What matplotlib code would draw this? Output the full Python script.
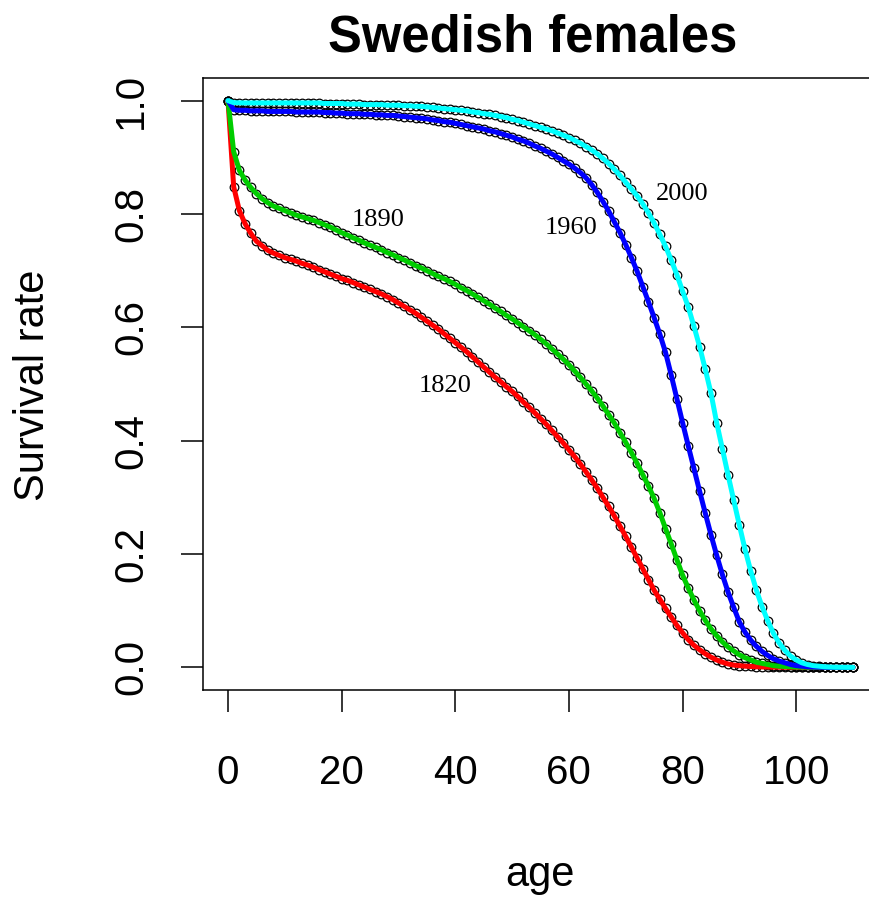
import matplotlib
matplotlib.use("Agg")
import matplotlib.pyplot as plt

# Survival by age (0..110) for Swedish female cohorts
ages = list(range(0, 111))

surv_1820 = [
    1.000, 0.848, 0.806, 0.783, 0.766, 0.752, 0.744, 0.736, 0.731, 0.727,
    0.723, 0.720, 0.717, 0.713, 0.710, 0.706, 0.702, 0.698, 0.694, 0.690,
    0.686, 0.683, 0.679, 0.675, 0.671, 0.667, 0.663, 0.659, 0.654, 0.649,
    0.643, 0.637, 0.631, 0.625, 0.618, 0.611, 0.604, 0.597, 0.589, 0.581,
    0.573, 0.565, 0.557, 0.548, 0.539, 0.530, 0.521, 0.512, 0.504, 0.495,
    0.487, 0.478, 0.468, 0.459, 0.449, 0.439, 0.429, 0.418, 0.407, 0.396,
    0.384, 0.372, 0.359, 0.345, 0.331, 0.316, 0.300, 0.284, 0.267, 0.249,
    0.231, 0.212, 0.193, 0.174, 0.155, 0.136, 0.120, 0.104, 0.089, 0.074,
    0.061, 0.049, 0.039, 0.031, 0.024, 0.018, 0.013, 0.009, 0.006, 0.004,
    0.003, 0.002, 0.0015, 0.001, 0.0007, 0.0005, 0.0003, 0.0002, 0.0001, 0.0001,
    0.0, 0.0, 0.0, 0.0, 0.0, 0.0, 0.0, 0.0, 0.0, 0.0, 0.0,
]

surv_1890 = [
    1.000, 0.910, 0.877, 0.860, 0.847, 0.836, 0.827, 0.820, 0.814, 0.810,
    0.806, 0.802, 0.798, 0.795, 0.792, 0.789, 0.785, 0.781, 0.777, 0.772,
    0.767, 0.763, 0.758, 0.754, 0.749, 0.745, 0.741, 0.737, 0.732, 0.728,
    0.723, 0.719, 0.714, 0.709, 0.705, 0.700, 0.695, 0.690, 0.686, 0.681,
    0.676, 0.670, 0.665, 0.659, 0.653, 0.647, 0.641, 0.634, 0.628, 0.621,
    0.615, 0.608, 0.601, 0.594, 0.587, 0.579, 0.571, 0.562, 0.553, 0.544,
    0.534, 0.523, 0.512, 0.500, 0.488, 0.475, 0.461, 0.446, 0.431, 0.414,
    0.397, 0.379, 0.360, 0.340, 0.320, 0.298, 0.273, 0.245, 0.218, 0.190,
    0.163, 0.140, 0.119, 0.100, 0.083, 0.068, 0.056, 0.045, 0.036, 0.029,
    0.022, 0.017, 0.013, 0.009, 0.007, 0.005, 0.003, 0.002, 0.0015, 0.001,
    0.0006, 0.0004, 0.0002, 0.0001, 0.0, 0.0, 0.0, 0.0, 0.0, 0.0, 0.0,
]

surv_1960 = [
    1.000, 0.984, 0.983, 0.983, 0.982, 0.982, 0.982, 0.981, 0.981, 0.981,
    0.981, 0.981, 0.980, 0.980, 0.980, 0.980, 0.980, 0.979, 0.979, 0.978,
    0.978, 0.977, 0.977, 0.977, 0.976, 0.976, 0.975, 0.975, 0.974, 0.974,
    0.973, 0.972, 0.971, 0.970, 0.969, 0.968, 0.966, 0.965, 0.963, 0.962,
    0.960, 0.958, 0.956, 0.954, 0.952, 0.950, 0.947, 0.945, 0.942, 0.939,
    0.936, 0.932, 0.929, 0.925, 0.920, 0.916, 0.911, 0.906, 0.900, 0.894,
    0.888, 0.881, 0.873, 0.864, 0.852, 0.838, 0.822, 0.805, 0.786, 0.767,
    0.746, 0.723, 0.699, 0.672, 0.645, 0.617, 0.588, 0.556, 0.516, 0.474,
    0.432, 0.391, 0.351, 0.311, 0.272, 0.234, 0.198, 0.164, 0.133, 0.106,
    0.080, 0.062, 0.048, 0.037, 0.028, 0.021, 0.015, 0.011, 0.008, 0.005,
    0.003, 0.002, 0.001, 0.0006, 0.0003, 0.0001, 0.0, 0.0, 0.0, 0.0, 0.0,
]

surv_2000 = [
    1.000, 0.9965, 0.9962, 0.996, 0.996, 0.996, 0.996, 0.996, 0.996, 0.996,
    0.996, 0.996, 0.996, 0.996, 0.996, 0.996, 0.996, 0.995, 0.995, 0.995,
    0.995, 0.994, 0.994, 0.994, 0.993, 0.993, 0.993, 0.993, 0.992, 0.992,
    0.992, 0.991, 0.991, 0.990, 0.990, 0.989, 0.988, 0.987, 0.986, 0.985,
    0.984, 0.983, 0.982, 0.980, 0.979, 0.977, 0.976, 0.974, 0.972, 0.970,
    0.967, 0.965, 0.962, 0.959, 0.956, 0.953, 0.950, 0.947, 0.943, 0.939,
    0.935, 0.930, 0.925, 0.919, 0.913, 0.906, 0.898, 0.889, 0.879, 0.868,
    0.856, 0.844, 0.832, 0.818, 0.802, 0.784, 0.764, 0.743, 0.719, 0.693,
    0.664, 0.636, 0.602, 0.566, 0.526, 0.484, 0.432, 0.386, 0.340, 0.295,
    0.251, 0.208, 0.170, 0.136, 0.107, 0.082, 0.060, 0.043, 0.030, 0.020,
    0.013, 0.008, 0.005, 0.003, 0.002, 0.001, 0.0005, 0.0002, 0.0001, 0.0, 0.0,
]

years = ["1820", "1890", "1960", "2000"]
series = [surv_1820, surv_1890, surv_1960, surv_2000]
colors = ["#FF0000", "#00CD00", "#0000FF", "#00FFFF"]
label_pos = [(38.2, 0.496), (26.35, 0.790), (60.3, 0.776), (79.9, 0.835)]

x_ticks = [0, 20, 40, 60, 80, 100]
y_ticks = [0.0, 0.2, 0.4, 0.6, 0.8, 1.0]

W, H = 869, 900
fig = plt.figure(figsize=(W / 100, H / 100), dpi=100)
ax = fig.add_axes([203 / W, 1 - 690 / H, 675 / W, 612 / H])
ax.set_xlim(-4.4, 114.4)
ax.set_ylim(-0.04, 1.04)

sans = "Liberation Sans"
serif = "Liberation Serif"

for vals, col in zip(series, colors):
    ax.plot(ages, vals, linestyle="none", marker="o", markersize=6.2,
            markerfacecolor="none", markeredgecolor="black",
            markeredgewidth=0.9, zorder=2)
    ax.plot(ages, vals, color=col, linewidth=3.6, zorder=3,
            solid_capstyle="round")

for yr, (lx, ly) in zip(years, label_pos):
    ax.text(lx, ly, yr, family=serif, fontsize=19, ha="center", va="center",
            zorder=4,
            bbox=dict(boxstyle="square,pad=0.05", facecolor="white",
                      edgecolor="none"))

ax.set_xticks(x_ticks)
ax.set_xticklabels([str(v) for v in x_ticks], family=sans)
ax.set_yticks(y_ticks)
ax.set_yticklabels([f"{v:.1f}" for v in y_ticks], family=sans,
                   rotation=90, va="center")
ax.tick_params(direction="out", length=16, width=1.1, labelsize=29,
               colors="black")
ax.tick_params(axis="x", pad=30)
ax.tick_params(axis="y", pad=22)
for s in ax.spines.values():
    s.set_linewidth(1.1)

fig.text(533 / W, 1 - 52 / H, "Swedish females", family=sans,
         fontweight="bold", fontsize=36.5, ha="center", va="baseline")
fig.text(540 / W, 1 - 886 / H, "age", family=sans, fontsize=30,
         ha="center", va="baseline")
fig.text(33 / W, 1 - 385 / H, "Survival rate", family=sans, fontsize=30,
         ha="center", va="center", rotation=90)

fig.savefig("out.png", dpi=100)
